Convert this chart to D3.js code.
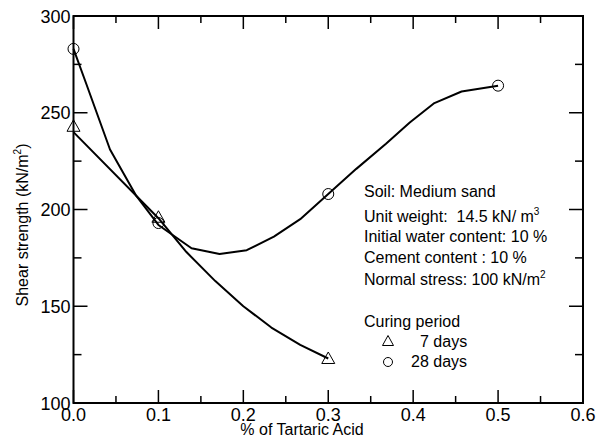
<!DOCTYPE html>
<html>
<head>
<meta charset="utf-8">
<script src="https://cdn.jsdelivr.net/npm/d3@7"></script>
<style>
  body { margin: 0; background: #fff; }
  svg { font-family: "Liberation Sans", Arial, sans-serif; }
  text { white-space: pre; }
</style>
</head>
<body>
<div id="root"></div>
<script>
// Size of the chart
const width = 601;
const height = 441;
const margin = { left: 73.5, right: 18, top: 16, bottom: 38 };

// Axis ticks
const xTicks = [0, 0.1, 0.2, 0.3, 0.4, 0.5, 0.6];
const xMinor = [0.05, 0.15, 0.25, 0.35, 0.45, 0.55];
const yTicks = [100, 150, 200, 250, 300];
const yMinor = [125, 175, 225, 275];

// 7 days: measured points and fitted curve
const pct7 = [0, 0.1, 0.3];
const strength7 = [243, 196, 123];
const curve7X = [0, 0.1, 0.133, 0.167, 0.2, 0.233, 0.267, 0.3];
const curve7Y = [240, 195.5, 178, 163, 150, 139, 130, 123];

// 28 days: measured points and fitted curve
const pct28 = [0, 0.1, 0.3, 0.5];
const strength28 = [283, 193, 208, 264];
const curve28X = [0, 0.015, 0.043, 0.074, 0.1, 0.139, 0.172, 0.204, 0.236, 0.267, 0.3, 0.333, 0.368, 0.396, 0.425, 0.457, 0.5];
const curve28Y = [283, 265, 231, 207, 192, 180, 177, 179, 186, 195, 208, 221, 234, 245, 255, 261, 264];

const svg = d3
  .select("#root")
  .append("svg")
  .attr("width", width)
  .attr("height", height);

const xScale = d3.scaleLinear().domain([0, 0.6]).range([margin.left, width - margin.right]);
const yScale = d3.scaleLinear().domain([100, 300]).range([height - margin.bottom, margin.top]);

const x0 = xScale(0), x1 = xScale(0.6), y0 = yScale(100), y1 = yScale(300);

// Ticks pointing inward on all four sides
function tickSet(values, len) {
  const g = svg.append("g").attr("stroke", "#000").attr("stroke-width", 1.5);
  return g;
}

const ticks = svg.append("g").attr("stroke", "#000").attr("stroke-width", 1.5);
[[xTicks, 13], [xMinor, 7]].forEach(([vals, len]) => {
  vals.forEach(v => {
    ticks.append("line").attr("x1", xScale(v)).attr("x2", xScale(v)).attr("y1", y0).attr("y2", y0 - len);
    ticks.append("line").attr("x1", xScale(v)).attr("x2", xScale(v)).attr("y1", y1).attr("y2", y1 + len);
  });
});
[[yTicks, 14], [yMinor, 8]].forEach(([vals, len]) => {
  vals.forEach(v => {
    ticks.append("line").attr("y1", yScale(v)).attr("y2", yScale(v)).attr("x1", x0).attr("x2", x0 + len);
    ticks.append("line").attr("y1", yScale(v)).attr("y2", yScale(v)).attr("x1", x1).attr("x2", x1 - len);
  });
});

// Frame
svg
  .append("rect")
  .attr("x", x0)
  .attr("y", y1)
  .attr("width", x1 - x0)
  .attr("height", y0 - y1)
  .attr("fill", "none")
  .attr("stroke", "#000")
  .attr("stroke-width", 2);

// Tick labels
svg
  .append("g")
  .selectAll("text")
  .data(xTicks)
  .enter()
  .append("text")
  .attr("x", d => xScale(d))
  .attr("y", y0 + 18)
  .attr("text-anchor", "middle")
  .attr("font-size", 18)
  .text(d => d3.format(".1f")(d));

svg
  .append("g")
  .selectAll("text")
  .data(yTicks)
  .enter()
  .append("text")
  .attr("x", x0 - 3)
  .attr("y", d => yScale(d) + 6.5)
  .attr("text-anchor", "end")
  .attr("font-size", 18)
  .text(d => d);

// Axis titles
svg
  .append("text")
  .attr("x", 302)
  .attr("y", 435)
  .attr("text-anchor", "middle")
  .attr("font-size", 16)
  .text("% of Tartaric Acid");

const yTitle = svg
  .append("text")
  .attr("transform", "translate(28," + 225 + ") rotate(-90)")
  .attr("text-anchor", "middle")
  .attr("font-size", 16);
yTitle.append("tspan").text("Shear strength (kN/m");
yTitle.append("tspan").attr("font-size", 10).attr("dy", -7).text("2");
yTitle.append("tspan").attr("dy", 7).text(")");

// Curves
const line = d3
  .line()
  .x(d => xScale(d[0]))
  .y(d => yScale(d[1]));

function createLine(xs, ys, className) {
  svg
    .append("path")
    .datum(xs.map((x, i) => [x, ys[i]]))
    .attr("class", className)
    .attr("fill", "none")
    .attr("stroke", "#000")
    .attr("stroke-width", 2)
    .attr("stroke-linejoin", "round")
    .attr("d", line);
}

createLine(curve7X, curve7Y, "days7-line");
createLine(curve28X, curve28Y, "days28-line");

// Markers
const triangle = "M0,-6.5L6.5,5L-6.5,5Z";

svg
  .append("g")
  .attr("class", "days7-dots")
  .selectAll("path")
  .data(pct7.map((x, i) => [x, strength7[i]]))
  .enter()
  .append("path")
  .attr("d", triangle)
  .attr("transform", d => "translate(" + xScale(d[0]) + "," + yScale(d[1]) + ")")
  .attr("fill", "none")
  .attr("stroke", "#000")
  .attr("stroke-width", 1);

svg
  .append("g")
  .attr("class", "days28-dots")
  .selectAll("circle")
  .data(pct28.map((x, i) => [x, strength28[i]]))
  .enter()
  .append("circle")
  .attr("r", 5.5)
  .attr("cx", d => xScale(d[0]))
  .attr("cy", d => yScale(d[1]))
  .attr("fill", "none")
  .attr("stroke", "#000")
  .attr("stroke-width", 1);

// Test conditions
const notes = svg.append("g").attr("font-size", 16);
notes.append("text").attr("x", 364).attr("y", 197).text("Soil: Medium sand");
const uw = notes.append("text").attr("x", 364).attr("y", 222);
uw.append("tspan").text("Unit weight:  14.5 kN/ m");
uw.append("tspan").attr("font-size", 10).attr("dy", -7).text("3");
notes.append("text").attr("x", 364).attr("y", 242).text("Initial water content: 10 %");
notes.append("text").attr("x", 364).attr("y", 263).text("Cement content : 10 %");
const ns = notes.append("text").attr("x", 364).attr("y", 285);
ns.append("tspan").text("Normal stress: 100 kN/m");
ns.append("tspan").attr("font-size", 10).attr("dy", -7).text("2");

// Legend
notes.append("text").attr("x", 364).attr("y", 327).text("Curing period");
notes
  .append("path")
  .attr("d", "M0,-5.5L5.5,4.5L-5.5,4.5Z")
  .attr("transform", "translate(388,341)")
  .attr("fill", "none")
  .attr("stroke", "#000")
  .attr("stroke-width", 1);
notes.append("text").attr("x", 420).attr("y", 347).text("7 days");
notes
  .append("circle")
  .attr("cx", 388)
  .attr("cy", 362)
  .attr("r", 4.5)
  .attr("fill", "none")
  .attr("stroke", "#000")
  .attr("stroke-width", 1);
notes.append("text").attr("x", 411).attr("y", 367).text("28 days");
</script>
</body>
</html>
